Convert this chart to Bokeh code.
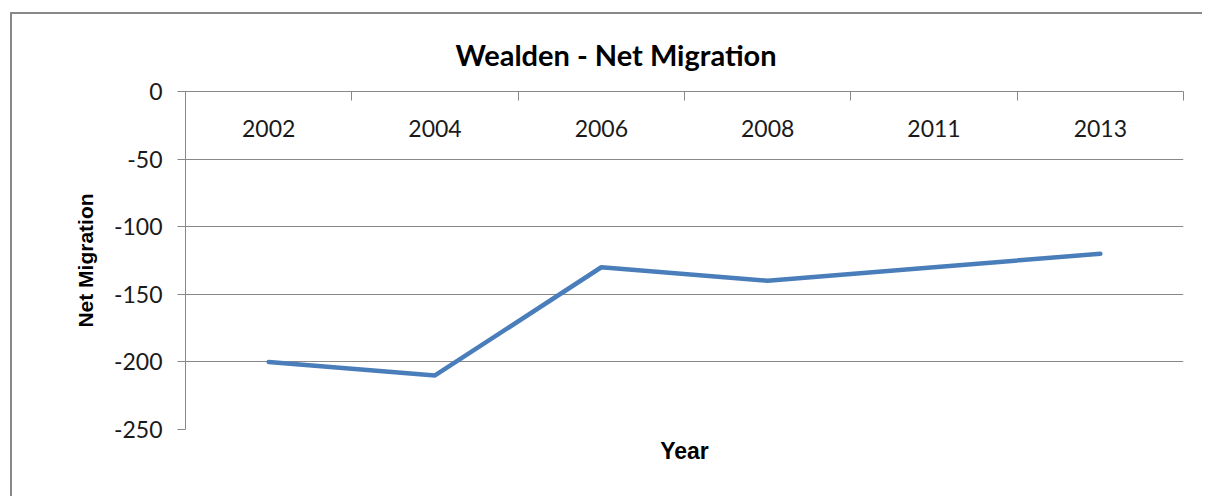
from bokeh.plotting import figure
from bokeh.models import Range1d, FixedTicker, LinearAxis, Title, InlineStyleSheet, ColumnDataSource
from bokeh.core.properties import value
from bokeh.embed import file_html
from bokeh.resources import INLINE

years = ["2002", "2004", "2006", "2008", "2011", "2013"]
net_migration = [-200, -210, -130, -140, -130, -120]
y_ticks = [0, -50, -100, -150, -200, -250]
title_text = "Wealden - Net Migration"
y_label = "Net Migration"
x_label = "Year"

xpos = [i + 0.5 for i in range(len(years))]
src = ColumnDataSource(dict(x=xpos, y=net_migration))
lab = ColumnDataSource(dict(x=xpos, y=[-27] * len(years), t=years))

W, H = 1192, 484
p = figure(width=W, height=H, output_backend="svg", toolbar_location=None,
           x_range=Range1d(0, len(years)), y_range=Range1d(-250, 0),
           x_axis_location=None, y_axis_location=None)
p.margin = (12, 0, 0, 10)
p.stylesheets = [InlineStyleSheet(css=":host { border-left: 2px solid #888888; border-top: 2px solid #888888; }")]
p.min_border_left = 173
p.min_border_top = 77
p.min_border_right = W - 1171
p.min_border_bottom = H - 415
p.outline_line_color = None
p.background_fill_color = "white"
p.border_fill_color = "white"

grey = "#888888"

# Left axis
ya = LinearAxis(ticker=FixedTicker(ticks=y_ticks))
ya.axis_line_color = grey
ya.major_tick_line_color = grey
ya.major_tick_out = 8
ya.major_tick_in = 0
ya.minor_tick_line_color = None
ya.major_label_overrides = {v: str(v) for v in y_ticks}
ya.major_label_text_font = "Lato"
ya.major_label_text_font_size = "23px"
ya.major_label_text_color = "#1a1a1a"
ya.major_label_standoff = 15
ya.axis_label = y_label
ya.axis_label_text_font = "Liberation Sans"
ya.axis_label_text_font_style = "bold"
ya.axis_label_text_font_size = "21px"
ya.axis_label_text_color = "black"
ya.axis_label_standoff = 14
p.add_layout(ya, "left")

# Top category axis (ticks at category boundaries)
bounds = list(range(len(years) + 1))
xa = LinearAxis(ticker=FixedTicker(ticks=bounds))
xa.axis_line_color = grey
xa.major_tick_line_color = grey
xa.major_tick_in = 9
xa.major_tick_out = 0
xa.minor_tick_line_color = None
xa.major_label_overrides = {b: "" for b in bounds}
xa.major_label_standoff = 0
p.add_layout(xa, "above")

# Bottom axis for "Year" label only
xb = LinearAxis(ticker=FixedTicker(ticks=[]))
xb.axis_line_color = None
xb.major_tick_line_color = None
xb.minor_tick_line_color = None
xb.major_tick_out = 0
xb.axis_label = x_label
xb.axis_label_text_font = "Liberation Sans"
xb.axis_label_text_font_style = "bold"
xb.axis_label_text_font_size = "23px"
xb.axis_label_text_color = "black"
xb.axis_label_standoff = 8
p.add_layout(xb, "below")

p.xgrid.visible = False
p.ygrid.ticker = FixedTicker(ticks=y_ticks)
p.ygrid.grid_line_color = grey
p.ygrid.grid_line_width = 1.2

p.text(x="x", y="y", text="t", source=lab, text_font=value("Lato"),
       text_font_size="23px", text_align="center", text_baseline="middle",
       text_color="#1a1a1a")

p.line(x="x", y="y", source=src, line_color="#4A7EBB", line_width=4.5,
       line_join="round", line_cap="round")

p.title = Title(text=title_text, align="left", offset=270,
                text_font="Lato", text_font_style="bold",
                text_font_size="29px", text_color="black")
p.title.standoff = 39

open("out.html", "w").write(file_html(p, INLINE))
